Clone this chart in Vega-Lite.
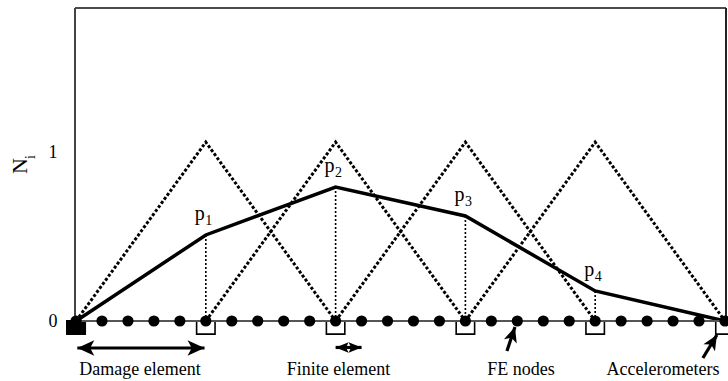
{
  "$schema": "https://vega.github.io/schema/vega-lite/v6.json",
  "width": 651,
  "height": 313,
  "autosize": {"type": "none"},
  "padding": {"left": 75, "top": 8, "right": 2, "bottom": 60},
  "background": "white",
  "config": {
    "view": {"stroke": null},
    "font": "Liberation Serif, DejaVu Serif, serif",
    "text": {"font": "Liberation Serif, DejaVu Serif, serif", "color": "black"}
  },
  "data": {"values": [{}]},
  "datasets": {
    "hats": [
      {"hat": 1, "x": 0, "N": 0}, {"hat": 1, "x": 1, "N": 1}, {"hat": 1, "x": 2, "N": 0},
      {"hat": 2, "x": 1, "N": 0}, {"hat": 2, "x": 2, "N": 1}, {"hat": 2, "x": 3, "N": 0},
      {"hat": 3, "x": 2, "N": 0}, {"hat": 3, "x": 3, "N": 1}, {"hat": 3, "x": 4, "N": 0},
      {"hat": 4, "x": 3, "N": 0}, {"hat": 4, "x": 4, "N": 1}, {"hat": 4, "x": 5, "N": 0}
    ],
    "nodes": [
      {"i": 0, "N": 0},
      {"i": 1, "N": 0.481, "p": "p", "sub": "1"},
      {"i": 2, "N": 0.749, "p": "p", "sub": "2"},
      {"i": 3, "N": 0.587, "p": "p", "sub": "3"},
      {"i": 4, "N": 0.168, "p": "p", "sub": "4"},
      {"i": 5, "N": 0}
    ],
    "fe": [
      {"x": 0}, {"x": 0.2}, {"x": 0.4}, {"x": 0.6}, {"x": 0.8},
      {"x": 1}, {"x": 1.2}, {"x": 1.4}, {"x": 1.6}, {"x": 1.8},
      {"x": 2}, {"x": 2.2}, {"x": 2.4}, {"x": 2.6}, {"x": 2.8},
      {"x": 3}, {"x": 3.2}, {"x": 3.4}, {"x": 3.6}, {"x": 3.8},
      {"x": 4}, {"x": 4.2}, {"x": 4.4}, {"x": 4.6}, {"x": 4.8},
      {"x": 5}
    ],
    "arrows": [
      {"arrow": "damage", "x": 0.01, "y": -0.151, "x2": 0.99, "y2": -0.151},
      {"arrow": "element", "x": 2.0, "y": -0.148, "x2": 2.2, "y2": -0.148},
      {"arrow": "node", "x": 3.32, "y": -0.168, "x2": 3.382, "y2": -0.034},
      {"arrow": "sensor", "x": 4.83, "y": -0.207, "x2": 4.938, "y2": -0.078}
    ],
    "labels": [
      {"text": "Damage element", "x": 0.493, "y": -0.302},
      {"text": "Finite element", "x": 2.022, "y": -0.302},
      {"text": "FE nodes", "x": 3.428, "y": -0.302},
      {"text": "Accelerometers", "x": 4.522, "y": -0.302}
    ]
  },
  "layer": [
    {
      "data": {"name": "hats"},
      "mark": {"type": "line", "color": "black", "strokeWidth": 3, "strokeDash": [3, 2]},
      "encoding": {
        "x": {"field": "x", "type": "quantitative", "scale": {"domain": [-0.008, 5.008], "nice": false, "zero": false}, "axis": null},
        "y": {"field": "N", "type": "quantitative", "scale": {"domain": [0, 1.75], "nice": false, "zero": false},
          "axis": {
            "values": [0, 1], "format": "d", "ticks": false, "domain": false, "grid": false, "title": null,
            "labelFont": "Liberation Serif, DejaVu Serif, serif", "labelFontSize": 18, "labelColor": "black", "labelPadding": 18,
            "labelOffset": {"condition": {"test": "datum.value === 1", "value": 10}, "value": 0}
          }
        },
        "detail": {"field": "hat", "type": "nominal"}
      }
    },
    {
      "data": {"name": "nodes"},
      "transform": [{"filter": "datum.i >= 1 && datum.i <= 4"}],
      "mark": {"type": "rule", "color": "black", "strokeWidth": 1.6, "strokeDash": [2, 2]},
      "encoding": {
        "x": {"field": "i", "type": "quantitative"},
        "y": {"field": "N", "type": "quantitative"},
        "y2": {"datum": 0}
      }
    },
    {
      "data": {"name": "nodes"},
      "mark": {"type": "line", "color": "black", "strokeWidth": 3.5},
      "encoding": {
        "x": {"field": "i", "type": "quantitative"},
        "y": {"field": "N", "type": "quantitative"}
      }
    },
    {
      "data": {"name": "nodes"},
      "mark": {"type": "point", "shape": "M-1,-0.72H1V0.72H-1Z", "size": 340, "yOffset": 6.5, "strokeWidth": 1.6, "stroke": "black", "opacity": 1},
      "encoding": {
        "x": {"field": "i", "type": "quantitative"},
        "y": {"datum": 0, "type": "quantitative"},
        "fill": {"condition": {"test": "datum.i === 0", "value": "black"}, "value": "white"}
      }
    },
    {
      "mark": {"type": "rule", "color": "#111", "strokeWidth": 1.5},
      "encoding": {"y": {"datum": 1.75, "type": "quantitative"}}
    },
    {
      "mark": {"type": "rule", "color": "#444", "strokeWidth": 2},
      "encoding": {"x": {"datum": -0.008, "type": "quantitative"}}
    },
    {
      "mark": {"type": "rule", "color": "#222", "strokeWidth": 2},
      "encoding": {"x": {"datum": 5.008, "type": "quantitative"}}
    },
    {
      "mark": {"type": "rule", "color": "#555", "strokeWidth": 2},
      "encoding": {"y": {"datum": 0, "type": "quantitative"}}
    },
    {
      "data": {"name": "fe"},
      "mark": {"type": "circle", "color": "black", "size": 125, "opacity": 1},
      "encoding": {
        "x": {"field": "x", "type": "quantitative"},
        "y": {"datum": 0, "type": "quantitative"}
      }
    },
    {
      "data": {"name": "nodes"},
      "transform": [{"filter": "datum.i >= 1 && datum.i <= 4"}],
      "mark": {"type": "text", "fontSize": 20, "align": "center", "baseline": "alphabetic", "dx": -6, "dy": -15},
      "encoding": {
        "x": {"field": "i", "type": "quantitative"},
        "y": {"field": "N", "type": "quantitative"},
        "text": {"field": "p", "type": "nominal"}
      }
    },
    {
      "data": {"name": "nodes"},
      "transform": [{"filter": "datum.i >= 1 && datum.i <= 4"}],
      "mark": {"type": "text", "fontSize": 14, "align": "center", "baseline": "alphabetic", "dx": 3, "dy": -10},
      "encoding": {
        "x": {"field": "i", "type": "quantitative"},
        "y": {"field": "N", "type": "quantitative"},
        "text": {"field": "sub", "type": "nominal"}
      }
    },
    {
      "data": {"name": "arrows"},
      "mark": {"type": "rule", "color": "black", "strokeWidth": 3.2},
      "encoding": {
        "x": {"field": "x", "type": "quantitative"},
        "y": {"field": "y", "type": "quantitative"},
        "x2": {"field": "x2"},
        "y2": {"field": "y2"}
      }
    },
    {
      "data": {"name": "arrows"},
      "transform": [{"filter": "datum.arrow === 'damage'"}],
      "mark": {"type": "point", "shape": "M0,0L-2,-0.9L-1.5,0L-2,0.9Z", "size": 289, "filled": true, "color": "black", "opacity": 1, "angle": 0},
      "encoding": {
        "x": {"field": "x2", "type": "quantitative"},
        "y": {"field": "y2", "type": "quantitative"}
      }
    },
    {
      "data": {"name": "arrows"},
      "transform": [{"filter": "datum.arrow === 'damage'"}],
      "mark": {"type": "point", "shape": "M0,0L-2,-0.9L-1.5,0L-2,0.9Z", "size": 289, "filled": true, "color": "black", "opacity": 1, "angle": 180},
      "encoding": {
        "x": {"field": "x", "type": "quantitative"},
        "y": {"field": "y", "type": "quantitative"}
      }
    },
    {
      "data": {"name": "arrows"},
      "transform": [{"filter": "datum.arrow === 'element'"}],
      "mark": {"type": "point", "shape": "M0,0L-2,-0.8L-1.6,0L-2,0.8Z", "size": 169, "filled": true, "color": "black", "opacity": 1, "angle": 0},
      "encoding": {
        "x": {"field": "x2", "type": "quantitative"},
        "y": {"field": "y2", "type": "quantitative"}
      }
    },
    {
      "data": {"name": "arrows"},
      "transform": [{"filter": "datum.arrow === 'element'"}],
      "mark": {"type": "point", "shape": "M0,0L-2,-0.8L-1.6,0L-2,0.8Z", "size": 169, "filled": true, "color": "black", "opacity": 1, "angle": 180},
      "encoding": {
        "x": {"field": "x", "type": "quantitative"},
        "y": {"field": "y", "type": "quantitative"}
      }
    },
    {
      "data": {"name": "arrows"},
      "transform": [{"filter": "datum.arrow === 'node'"}],
      "mark": {"type": "point", "shape": "M0,0L-2,-0.9L-1.5,0L-2,0.9Z", "size": 225, "filled": true, "color": "black", "opacity": 1, "angle": 288},
      "encoding": {
        "x": {"field": "x2", "type": "quantitative"},
        "y": {"field": "y2", "type": "quantitative"}
      }
    },
    {
      "data": {"name": "arrows"},
      "transform": [{"filter": "datum.arrow === 'sensor'"}],
      "mark": {"type": "point", "shape": "M0,0L-2,-0.9L-1.5,0L-2,0.9Z", "size": 225, "filled": true, "color": "black", "opacity": 1, "angle": 301},
      "encoding": {
        "x": {"field": "x2", "type": "quantitative"},
        "y": {"field": "y2", "type": "quantitative"}
      }
    },
    {
      "data": {"name": "labels"},
      "mark": {"type": "text", "fontSize": 18, "align": "center", "baseline": "alphabetic"},
      "encoding": {
        "x": {"field": "x", "type": "quantitative"},
        "y": {"field": "y", "type": "quantitative"},
        "text": {"field": "text", "type": "nominal"}
      }
    },
    {
      "mark": {"type": "text", "text": "N", "angle": 270, "fontSize": 22, "align": "center", "baseline": "middle"},
      "encoding": {
        "x": {"datum": -0.43, "type": "quantitative"},
        "y": {"datum": 0.866, "type": "quantitative"}
      }
    },
    {
      "mark": {"type": "text", "text": "i", "angle": 270, "fontSize": 14, "align": "center", "baseline": "middle"},
      "encoding": {
        "x": {"datum": -0.347, "type": "quantitative"},
        "y": {"datum": 0.917, "type": "quantitative"}
      }
    }
  ]
}
